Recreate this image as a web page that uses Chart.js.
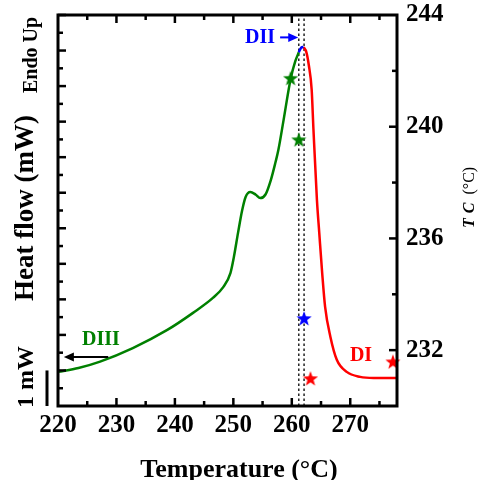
<!DOCTYPE html>
<html>
<head>
<meta charset="utf-8">
<script src="https://cdn.jsdelivr.net/npm/chart.js@4.4.1/dist/chart.umd.min.js"></script>
<style>
  html, body { margin: 0; padding: 0; background: #fff; }
  #wrap { width: 480px; height: 480px; }
</style>
</head>
<body>
<div id="wrap"><canvas id="dsc" width="480" height="480"></canvas></div>
<script>
// DSC trace (heat flow, mW) split in the three domains
var greenTemp = [220, 223.5, 227.2, 232.8, 238.7, 243.1, 246.5, 248.3, 249.5, 250.1, 250.8, 251.5, 252.1, 252.9, 253.8, 254.6, 255.5, 256.4, 257.2, 257.7, 258.6, 259.8, 260.6, 261.2];
var greenFlow = [0.96, 1.07, 1.25, 1.63, 2.14, 2.62, 3.04, 3.35, 3.74, 4.2, 4.87, 5.5, 5.88, 6.02, 5.95, 5.85, 5.95, 6.35, 6.85, 7.2, 8.05, 9.2, 9.7, 9.95];
var blueTemp = [261.2, 261.6, 262.0];
var blueFlow = [9.95, 10.08, 10.1];
var redTemp = [262.0, 262.5, 262.9, 263.4, 263.7, 264.3, 264.7, 265.2, 265.7, 266.6, 267.7, 269.4, 271.7, 274, 278];
var redFlow = [10.1, 9.95, 9.6, 8.9, 7.8, 5.8, 4.87, 3.74, 2.79, 1.95, 1.3, 0.96, 0.82, 0.79, 0.79];

// crystallization temperatures Tc (right axis)
var greenStarT = [259.8, 261.2];
var greenStarTc = [241.75, 239.55];
var blueStarT = [262.1];
var blueStarTc = [233.15];
var redStarT = [263.2, 277.3];
var redStarTc = [231.0, 231.6];

var dashedTemps = [261.2, 262.1];

var GREEN = '#008000', RED = '#ff0000', BLUE = '#0000ff';
var SERIF = '"Liberation Serif", "Times New Roman", serif';

function pairs(xs, ys) {
  return xs.map(function(x, i) { return { x: x, y: ys[i] }; });
}

function starImage(color, size) {
  var c = document.createElement('canvas');
  c.width = size; c.height = size;
  var g = c.getContext('2d');
  var cx = size / 2, cy = size / 2 + size * 0.06, R = size / 2, r = R * 0.4;
  g.beginPath();
  for (var i = 0; i < 10; i++) {
    var rad = i % 2 === 0 ? R : r;
    var a = -Math.PI / 2 + i * Math.PI / 5;
    g.lineTo(cx + rad * Math.cos(a), cy + rad * Math.sin(a));
  }
  g.closePath();
  g.fillStyle = color;
  g.fill();
  return c;
}

function starSet(xs, ys, color) {
  return {
    type: 'scatter',
    data: pairs(xs, ys),
    yAxisID: 'y2',
    pointStyle: starImage(color, 16),
    pointRadius: 8,
    clip: false
  };
}

function curveSet(xs, ys, color) {
  return {
    type: 'line',
    data: pairs(xs, ys),
    yAxisID: 'y',
    borderColor: color,
    borderWidth: 2.5,
    pointRadius: 0,
    cubicInterpolationMode: 'monotone',
    fill: false
  };
}

function dashedSet(t) {
  return {
    type: 'line',
    data: [{ x: t, y: 0 }, { x: t, y: 11 }],
    yAxisID: 'y',
    borderColor: '#000',
    borderWidth: 1.3,
    borderDash: [2.5, 2.5],
    pointRadius: 0
  };
}

function rotText(ctx, text, x, y, font, color) {
  ctx.save();
  ctx.translate(x, y);
  ctx.rotate(-Math.PI / 2);
  ctx.font = font;
  ctx.fillStyle = color;
  ctx.textAlign = 'center';
  ctx.textBaseline = 'alphabetic';
  ctx.fillText(text, 0, 0);
  ctx.restore();
}

function arrow(ctx, x1, y1, x2, y2, color) {
  var dir = x2 > x1 ? 1 : -1;
  ctx.strokeStyle = color; ctx.fillStyle = color; ctx.lineWidth = 2;
  ctx.beginPath(); ctx.moveTo(x1, y1); ctx.lineTo(x2 - dir * 8, y2); ctx.stroke();
  ctx.beginPath();
  ctx.moveTo(x2, y2);
  ctx.lineTo(x2 - dir * 10, y2 - 4.5);
  ctx.lineTo(x2 - dir * 10, y2 + 4.5);
  ctx.closePath(); ctx.fill();
}

var decor = {
  id: 'decor',
  afterDraw: function(chart) {
    var ctx = chart.ctx, a = chart.chartArea;
    var sx = chart.scales.x, sy = chart.scales.y, sr = chart.scales.y2;
    ctx.save();
    ctx.strokeStyle = '#000';
    ctx.lineWidth = 3;
    ctx.strokeRect(a.left, a.top, a.right - a.left, a.bottom - a.top);

    // inward ticks
    ctx.lineWidth = 2.5;
    function seg(x1, y1, x2, y2) { ctx.beginPath(); ctx.moveTo(x1, y1); ctx.lineTo(x2, y2); ctx.stroke(); }
    for (var t = 225; t < sx.max; t += 5) {
      var px = sx.getPixelForValue(t), len = t % 10 === 0 ? 8 : 5;
      seg(px, a.bottom, px, a.bottom - len);
      seg(px, a.top, px, a.top + len);
    }
    for (var v = 0.5; v < sy.max + 0.01; v += 0.5) {
      var py = sy.getPixelForValue(v);
      seg(a.left, py, a.left + (v % 1 === 0 ? 8 : 5), py);
    }
    for (var c = 232; c < sr.max; c += 2) {
      var pr = sr.getPixelForValue(c);
      seg(a.right, pr, a.right - (c % 4 === 0 ? 8 : 5), pr);
    }

    // 1 mW scale bar
    ctx.lineWidth = 3;
    seg(47, sy.getPixelForValue(0), 47, sy.getPixelForValue(1));

    // arrows
    arrow(ctx, sx.getPixelForValue(258.0), sy.getPixelForValue(10.37), sx.getPixelForValue(261.1), sy.getPixelForValue(10.37), BLUE);
    arrow(ctx, sx.getPixelForValue(228.6), sy.getPixelForValue(1.38), sx.getPixelForValue(221.0), sy.getPixelForValue(1.38), '#000');

    // domain labels
    ctx.font = 'bold 20px ' + SERIF;
    ctx.textAlign = 'center';
    ctx.textBaseline = 'alphabetic';
    ctx.fillStyle = BLUE; ctx.fillText('DII', 260, 43);
    ctx.fillStyle = GREEN; ctx.fillText('DIII', 101, 345);
    ctx.fillStyle = RED; ctx.fillText('DI', 361, 361);

    // left side texts
    rotText(ctx, 'Endo Up', 37, 55, 'bold 20px ' + SERIF, '#000');
    rotText(ctx, 'Heat flow (mW)', 33, 208, 'bold 27px ' + SERIF, '#000');
    rotText(ctx, '1 mW', 33, 377, 'bold 24px ' + SERIF, '#000');

    // bottom title
    ctx.fillStyle = '#000';
    ctx.font = 'bold 26px ' + SERIF;
    ctx.fillText('Temperature (\u00B0C)', 239, 477);

    // right title T_C (°C)
    ctx.save();
    ctx.translate(474, 228);
    ctx.rotate(-Math.PI / 2);
    ctx.textAlign = 'left';
    ctx.fillStyle = '#000';
    var xo = 0;
    ctx.font = 'italic bold 16px ' + SERIF;
    ctx.fillText('T', xo, 0); xo += ctx.measureText('T').width + 5;
    ctx.fillText('C', xo, 0); xo += ctx.measureText('C').width + 8;
    ctx.font = '16px ' + SERIF;
    ctx.fillText('(\u00B0C)', xo, 0);
    ctx.restore();

    ctx.restore();
  }
};

var datasets = [
  starSet(greenStarT, greenStarTc, GREEN),
  starSet(blueStarT, blueStarTc, BLUE),
  starSet(redStarT, redStarTc, RED),
  curveSet(blueTemp, blueFlow, BLUE),
  curveSet(greenTemp, greenFlow, GREEN),
  curveSet(redTemp, redFlow, RED)
];
dashedTemps.forEach(function(t) { datasets.push(dashedSet(t)); });

new Chart(document.getElementById('dsc'), {
  type: 'line',
  data: { datasets: datasets },
  options: {
    responsive: false,
    animation: false,
    layout: { padding: { top: 15, left: 0, right: 0, bottom: 0 } },
    plugins: { legend: { display: false }, tooltip: { enabled: false } },
    scales: {
      x: {
        type: 'linear',
        position: 'bottom',
        min: 220,
        max: 278,
        grid: { display: false, drawTicks: false },
        border: { display: false },
        ticks: {
          stepSize: 10,
          includeBounds: false,
          autoSkip: false,
          maxRotation: 0,
          padding: 5,
          color: '#000',
          font: { family: SERIF, size: 25, weight: 'bold' }
        },
        afterFit: function(s) { s.height = 74; }
      },
      y: {
        type: 'linear',
        position: 'left',
        min: 0,
        max: 11,
        grid: { display: false, drawTicks: false },
        border: { display: false },
        ticks: { display: false },
        afterFit: function(s) { s.width = 58; }
      },
      y2: {
        type: 'linear',
        position: 'right',
        min: 230,
        max: 244,
        grid: { display: false, drawTicks: false },
        border: { display: false },
        ticks: {
          stepSize: 2,
          autoSkip: false,
          padding: 9,
          color: '#000',
          font: { family: SERIF, size: 25, weight: 'bold' },
          callback: function(v) { return v % 4 === 0 ? v : ''; }
        },
        afterFit: function(s) { s.width = 83; s.paddingTop = 0; s.paddingBottom = 0; }
      }
    }
  },
  plugins: [decor]
});
</script>
</body>
</html>
